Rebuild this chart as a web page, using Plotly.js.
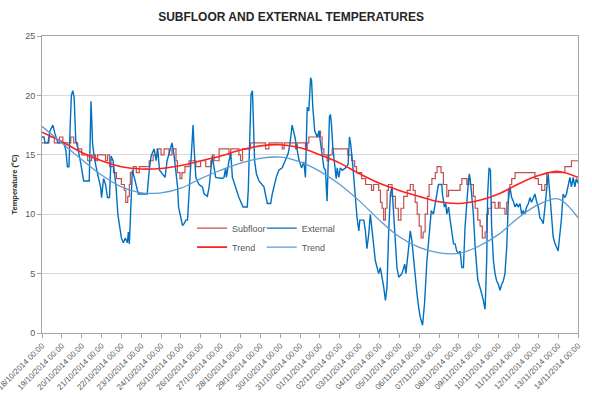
<!DOCTYPE html>
<html><head><meta charset="utf-8">
<script src="https://cdn.plot.ly/plotly-3.0.1.min.js"></script>
<style>html,body{margin:0;padding:0;background:#fff}#chart{width:592px;height:398px}</style>
</head><body><div id="chart"></div>
<script>
// Day offsets from 18/10/2014 00:00
const extDay = [0,0.1,0.15,0.3,0.4,0.55,0.65,0.8,1.1,1.2,1.28,1.36,1.42,1.48,1.55,1.62,1.7,1.8,1.95,2.1,2.38,2.47,2.55,2.65,2.8,2.95,3.0,3.1,3.2,3.3,3.4,3.48,3.58,3.65,3.73,3.82,3.9,4.0,4.1,4.2,4.3,4.35,4.4,4.48,4.55,4.65,4.75,4.85,5.3,5.4,5.5,5.65,5.75,5.83,5.92,6.2,6.3,6.45,6.55,6.65,6.75,6.83,6.88,
7.0,7.08,7.16,7.24,7.33,7.38,7.45,7.5,7.55,7.61,7.66,7.75,7.91,8.08,8.17,8.33,8.42,8.5,8.58,8.67,8.75,9.09,9.17,9.25,9.29,9.42,9.51,9.59,9.76,9.92,10.13,10.34,10.39,10.43,10.48,10.53,10.6,10.65,10.71,10.8,10.93,11.18,11.35,11.52,11.6,11.8,11.93,12.1,12.27,12.4,12.49,12.6,12.74,12.94,13.07,13.19,13.27,
13.36,13.44,13.53,13.58,13.64,13.74,13.86,13.95,14.03,14.11,14.2,14.28,14.36,14.41,14.45,14.48,14.53,14.58,14.65,14.75,14.82,14.87,14.95,15.03,15.12,15.29,15.42,15.49,15.55,15.65,15.79,15.87,15.96,16.01,16.21,16.29,16.37,16.46,16.54,16.63,16.71,16.79,16.88,16.96,17.04,17.13,17.21,17.3,17.38,17.46,17.55,17.63,17.71,17.8,17.88,17.97,18.13,18.27,18.33,18.47,18.55,18.63,18.72,18.8,18.89,18.97,19.05,19.17,19.22,19.27,19.39,19.51,19.61,
19.72,19.8,19.89,19.97,20.14,20.17,20.27,20.34,20.39,20.48,20.56,20.64,20.73,20.81,20.89,20.98,21.06,21.15,21.23,21.31,21.4,21.48,21.53,21.61,21.73,21.82,21.95,22.07,22.15,22.23,22.32,22.4,22.45,22.52,22.59,22.65,22.74,22.82,22.9,22.99,23.07,23.16,23.24,23.32,23.41,23.49,23.57,23.66,23.74,23.83,23.91,23.99,24.08,24.16,24.24,24.33,24.41,24.5,24.58,24.66,24.75,24.83,24.91,25.0,25.08,25.17,25.25,25.33,25.42,25.5,25.58,25.67,25.75,25.83,25.92,26.0,26.09,26.17,26.25,26.34,26.42,26.51,26.59,26.67,26.76,26.84,26.92,27.0];
const extTemp = [16.5,16.5,16.0,16.0,17.0,17.5,16.8,16.0,16.0,15.4,14.0,14.0,17.5,20.0,20.4,19.8,16.2,15.6,14.3,12.8,12.8,19.5,15.9,14.6,13.4,12.3,11.4,13.0,12.5,11.4,11.4,14.9,14.5,13.3,12.3,10.0,9.0,8.0,7.6,8.0,7.6,8.5,7.5,11.4,13.7,13.1,12.5,11.7,11.7,13.7,14.9,15.5,14.5,15.5,13.7,13.1,14.5,15.5,16.0,15.0,13.7,12.3,10.6,
9.5,9.05,9.2,9.5,9.5,11.1,13.1,14.5,15.9,17.5,15.6,13.1,12.5,12.3,11.7,11.5,12.3,13.7,14.9,13.9,13.1,13.0,13.1,13.9,13.1,14.5,15.1,13.1,12.3,11.4,10.6,10.6,12.0,15.1,18.4,20.1,20.4,17.3,14.5,13.4,12.8,12.3,10.9,10.9,11.7,13.1,13.7,13.9,14.5,15.1,15.9,17.5,16.5,14.6,13.9,14.4,13.1,
19.0,18.7,21.5,21.2,19.0,17.0,16.5,17.0,15.9,15.1,13.9,13.7,11.1,13.9,17.3,18.2,18.4,17.6,15.6,13.7,13.0,13.9,13.1,13.9,13.7,13.9,14.2,16.5,15.9,14.2,11.1,9.7,8.6,9.5,9.5,8.6,7.1,8.35,10.0,8.6,7.5,6.1,5.5,5.0,5.5,4.7,3.9,2.75,3.9,8.35,11.7,12.3,10.3,7.2,5.5,4.7,5.0,5.8,5.0,7.2,8.6,7.8,6.1,5.0,3.3,2.2,1.35,0.65,1.35,2.5,6.1,8.6,10.3,
10.0,10.9,11.7,12.5,12.5,11.7,10.6,10.9,10.0,10.6,9.5,8.6,7.5,7.5,6.9,6.7,6.9,5.5,5.5,8.9,11.4,12.8,13.4,12.3,10.0,7.2,4.5,3.9,3.3,2.75,2.0,6.1,11.7,13.9,13.7,8.9,6.1,5.0,4.4,4.1,3.6,4.1,4.4,5.0,7.2,11.1,12.3,11.4,11.1,10.6,10.9,10.6,10.9,10.0,10.3,10.0,10.6,10.9,11.4,11.0,11.4,11.7,11.1,10.6,9.7,9.5,9.2,10.6,11.7,13.4,11.7,9.5,8.1,7.6,7.2,6.9,8.35,9.7,11.7,11.4,11.7,12.5,13.1,12.3,13.1,12.3,13.0,12.6];

const subDay = [0,0.35,0.62,0.88,1.05,1.45,1.6,1.8,2.0,2.3,2.5,2.7,2.8,3.2,3.3,3.4,3.6,3.75,4.0,4.15,4.22,4.32,4.4,4.45,4.6,4.75,4.9,5.4,5.6,5.8,6.0,6.15,6.4,6.55,6.75,6.82,6.95,7.05,7.2,7.41,7.75,7.99,8.25,8.5,8.58,8.67,8.92,9.42,9.51,9.92,10.0,10.1,10.5,11.26,11.43,12.1,12.2,12.77,12.86,13.27,13.36,13.44,13.95,14.03,14.11,14.2,14.36,14.45,14.62,15.4,15.6,15.75,15.85,16.1,16.3,16.6,16.7,16.96,17.05,17.13,17.21,17.3,17.38,17.45,17.63,17.8,17.95,18.08,18.22,18.4,18.55,18.7,18.8,18.9,19.0,19.1,19.2,19.3,19.42,19.5,19.64,19.81,19.9,20.1,20.22,20.39,20.48,21.06,21.15,21.4,21.48,21.56,21.73,21.82,21.95,22.07,22.18,22.32,22.4,22.48,22.65,22.82,22.99,23.07,23.32,23.41,23.49,23.57,23.66,23.83,24.83,25.0,25.17,25.33,25.42,26.34,26.67,27.0];
const subTemp = [16.0,16.5,16.0,16.5,16.0,16.5,16.0,15.5,15.0,14.5,15.0,14.5,15.0,14.5,15.0,14.0,13.5,13.0,12.5,12.0,11.0,11.5,12.5,13.5,14.0,13.5,14.0,14.5,15.0,15.5,15.0,15.5,15.0,15.5,14.5,13.5,13.0,13.5,14.0,14.5,14.0,14.5,14.0,14.5,15.0,14.5,15.5,15.0,15.5,15.0,14.5,15.5,16.0,15.5,16.0,15.5,16.0,15.5,16.0,15.5,16.0,16.5,17.0,16.5,15.5,15.0,14.5,15.0,15.5,15.0,14.5,14.0,13.5,13.0,12.5,12.0,12.5,12.0,11.0,10.5,9.5,10.5,12.0,12.5,11.5,10.5,9.5,10.5,11.5,12.0,12.5,12.0,11.0,10.0,9.0,8.0,8.5,10.0,11.5,12.5,13.0,13.5,14.0,13.5,12.5,11.5,12.0,12.5,13.0,12.5,13.0,12.5,11.5,10.5,9.5,9.0,8.0,8.5,10.0,10.5,11.0,10.5,11.0,10.5,10.0,11.0,12.0,12.5,13.0,13.5,13.0,12.5,12.0,12.5,13.5,14.0,14.5,14.5];

const trendDay = [0,1,2,3,4,5,6,7,8,9,10,11,12,13,14,15,16,17,18,19,20,21,22,23,24,25,26,27];
const subTrend = [16.9,16.1,15.2,14.5,14.0,13.8,13.85,14.1,14.5,14.9,15.4,15.75,15.85,15.6,15.0,14.3,13.4,12.6,12.0,11.5,11.05,10.9,11.15,11.7,12.55,13.25,13.6,13.1];
const extTrend = [17.4,16.0,14.6,13.3,12.3,11.8,11.8,12.2,13.0,13.7,14.3,14.7,14.8,14.4,13.6,12.5,11.1,9.5,8.1,7.2,6.75,6.7,7.3,8.3,9.7,10.8,11.3,9.7];

function toDate(d){
  const t = new Date(Date.UTC(2014,9,18) + Math.round(d*86400000));
  const p = n => String(n).padStart(2,'0');
  return t.getUTCFullYear()+'-'+p(t.getUTCMonth()+1)+'-'+p(t.getUTCDate())+' '+p(t.getUTCHours())+':'+p(t.getUTCMinutes())+':'+p(t.getUTCSeconds());
}

const traces = [
  {name:'Subfloor', x: subDay.map(toDate), y: subTemp, mode:'lines', line:{color:'#C0504D', width:1.2, shape:'hv'}, legend:'legend'},
  {name:'External', x: extDay.map(toDate), y: extTemp, mode:'lines', line:{color:'#0070C0', width:1.4}, legend:'legend2'},
  {name:'Trend', x: trendDay.map(toDate), y: subTrend, mode:'lines', line:{color:'#FF2020', width:1.6, shape:'spline'}, legend:'legend'},
  {name:'Trend', x: trendDay.map(toDate), y: extTrend, mode:'lines', line:{color:'#5B9BD5', width:1.3, shape:'spline'}, legend:'legend2'}
];

const FONT = 'Liberation Sans, Arial, sans-serif';
const layout = {
  width:592, height:398,
  margin:{l:42, r:14, t:36, b:65},
  paper_bgcolor:'#fff', plot_bgcolor:'#fff',
  font:{family:FONT, color:'#595959'},
  title:{text:'<b>SUBFLOOR AND EXTERNAL TEMPERATURES</b>', font:{size:12, color:'#262626', family:FONT}, xref:'container', x:0.4916, xanchor:'center', yref:'container', y:0.957, yanchor:'middle'},
  xaxis:{type:'date', range:[toDate(0), toDate(27)], tick0:toDate(0), dtick:86400000, tickformat:'%d/%m/%Y %H:%M', tickangle:-45,
         ticklabeloverflow:'allow',
         ticks:'outside', ticklen:4, tickcolor:'#A6A6A6', showline:true, linecolor:'#A6A6A6', mirror:true, showgrid:false, zeroline:false,
         tickfont:{size:8, color:'#595959', family:FONT}},
  yaxis:{range:[0,25], dtick:5, tick0:0, ticks:'outside', ticklen:4, tickcolor:'#A6A6A6', showline:true, linecolor:'#A6A6A6', mirror:true,
         gridcolor:'#D9D9D9', gridwidth:1, zeroline:false, tickfont:{size:9, color:'#595959', family:FONT},
         title:{text:'<b>Temperature (ºC)</b>', font:{size:7.5, color:'#262626', family:FONT}, standoff:6}},
  showlegend:true,
  legend:{x:0.28, y:0.402, xanchor:'left', yanchor:'top', bgcolor:'rgba(0,0,0,0)', font:{size:9, color:'#595959', family:FONT}, orientation:'v'},
  legend2:{x:0.41, y:0.402, xanchor:'left', yanchor:'top', bgcolor:'rgba(0,0,0,0)', font:{size:9, color:'#595959', family:FONT}, orientation:'v'}
};

Plotly.newPlot('chart', traces, layout, {displayModeBar:false, staticPlot:true});
</script>
</body></html>
